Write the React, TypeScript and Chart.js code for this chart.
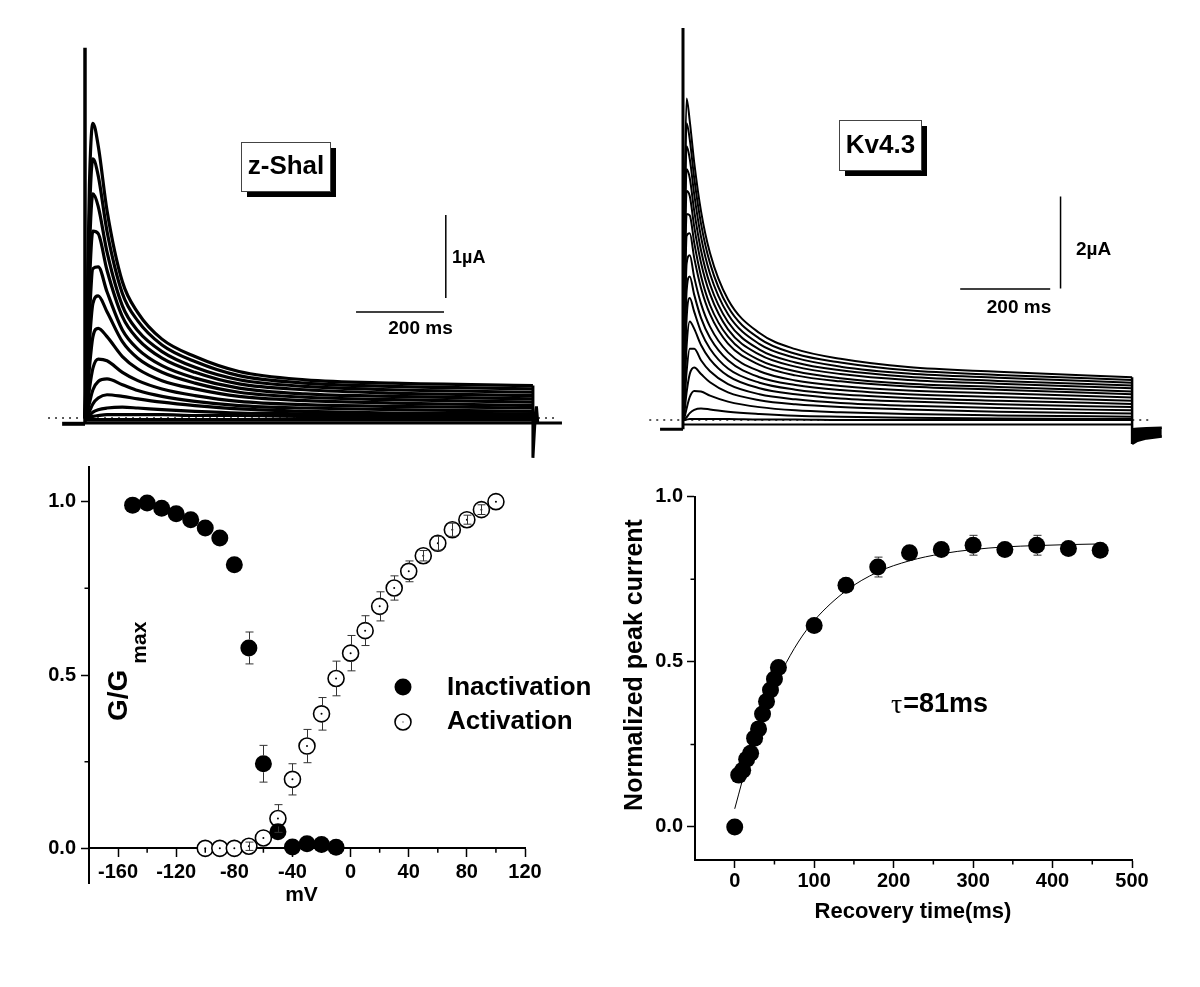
import React, { useEffect, useRef } from 'react';
import { Chart, registerables } from 'chart.js';

Chart.register(...registerables);

const SANS = "'Liberation Sans', Arial, Helvetica, sans-serif";
const SERIF = "'Liberation Serif', 'Times New Roman', serif";

// ================= Panel A: z-Shal currents (ms, µA) =================
const zTimes = [0, 4, 10, 18, 30, 50, 85, 120, 175, 250, 350, 500, 700, 1018];
const zTrace1 = [0, 1.0, 2.8, 3.55, 3.28, 2.5, 1.64, 1.27, 0.95, 0.74, 0.56, 0.46, 0.42, 0.39];
const zTrace2 = [0, 0.85, 2.4, 3.12, 2.92, 2.25, 1.5, 1.17, 0.88, 0.68, 0.51, 0.42, 0.38, 0.35];
const zTrace3 = [0, 0.7, 2.0, 2.7, 2.55, 2.0, 1.35, 1.05, 0.8, 0.61, 0.46, 0.38, 0.34, 0.31];
const zTrace4 = [0, 0.55, 1.6, 2.25, 2.22, 1.78, 1.22, 0.95, 0.72, 0.55, 0.41, 0.34, 0.3, 0.27];
const zTrace5 = [0, 0.4, 1.2, 1.8, 1.82, 1.52, 1.06, 0.83, 0.63, 0.48, 0.36, 0.29, 0.26, 0.23];
const zTrace6 = [0, 0.3, 0.9, 1.38, 1.47, 1.28, 0.92, 0.72, 0.55, 0.42, 0.31, 0.25, 0.22, 0.19];
const zTrace7 = [0, 0.2, 0.6, 0.98, 1.08, 0.98, 0.74, 0.59, 0.45, 0.35, 0.26, 0.21, 0.18, 0.15];
const zTrace8 = [0, 0.1, 0.35, 0.6, 0.71, 0.69, 0.55, 0.45, 0.35, 0.27, 0.2, 0.16, 0.14, 0.12];
const zTrace9 = [0, 0.05, 0.18, 0.34, 0.44, 0.47, 0.4, 0.33, 0.26, 0.2, 0.15, 0.12, 0.1, 0.08];
const zTrace10 = [0, 0.02, 0.08, 0.17, 0.24, 0.28, 0.26, 0.23, 0.19, 0.15, 0.11, 0.08, 0.06, 0.05];
const zTrace11 = [0, 0.01, 0.03, 0.07, 0.1, 0.12, 0.13, 0.12, 0.1, 0.08, 0.06, 0.05, 0.04, 0.03];
const zTrace12 = [0, 0, 0.01, 0.02, 0.03, 0.04, 0.04, 0.04, 0.04, 0.03, 0.03, 0.02, 0.02, 0.01];
const zTrace13 = [-0.02, -0.02, -0.02, -0.02, -0.02, -0.02, -0.02, -0.02, -0.02, -0.02, -0.02, -0.02, -0.02, -0.02];
const zTrace14 = [-0.06, -0.06, -0.06, -0.06, -0.06, -0.06, -0.06, -0.06, -0.06, -0.06, -0.06, -0.06, -0.06, -0.06];
const zTraces = [zTrace1, zTrace2, zTrace3, zTrace4, zTrace5, zTrace6, zTrace7, zTrace8, zTrace9, zTrace10, zTrace11, zTrace12, zTrace13, zTrace14];
const zHoldT = [-52, 0];
const zHoldI = [-0.07, -0.07];
const zSpikeI = [-0.07, 4.46];
const zTailT = [1018, 1018, 1022, 1026, 1029, 1084];
const zTailI = [0.39, -0.48, -0.1, 0.14, -0.06, -0.06];
const zZeroT = [-84, 1068];
const zBarT = [616, 816];
const zBarI = 1.277;
const zVBarT = 820;
const zVBarI = [1.446, 2.446];

// ================= Panel B: Kv4.3 currents (ms, µA) =================
const kTimes = [0, 3, 8, 15, 25, 40, 60, 100, 170, 250, 350, 500, 700, 998];
const kTrace1 = [0, 4.2, 6.99, 6.5, 5.59, 4.54, 3.63, 2.62, 1.89, 1.54, 1.33, 1.15, 1.05, 0.93];
const kTrace2 = [0, 3.8, 6.45, 6.1, 5.25, 4.27, 3.41, 2.46, 1.77, 1.44, 1.25, 1.08, 0.98, 0.87];
const kTrace3 = [0, 3.4, 5.95, 5.68, 4.9, 3.98, 3.18, 2.3, 1.65, 1.35, 1.16, 1.01, 0.92, 0.81];
const kTrace4 = [0, 3.0, 5.45, 5.26, 4.54, 3.69, 2.95, 2.13, 1.53, 1.25, 1.08, 0.94, 0.85, 0.75];
const kTrace5 = [0, 2.6, 4.98, 4.87, 4.2, 3.42, 2.74, 1.97, 1.42, 1.16, 1.0, 0.87, 0.79, 0.69];
const kTrace6 = [0, 2.2, 4.48, 4.45, 3.85, 3.13, 2.5, 1.81, 1.3, 1.06, 0.91, 0.79, 0.72, 0.62];
const kTrace7 = [0, 1.8, 4.0, 4.06, 3.52, 2.87, 2.3, 1.66, 1.2, 0.97, 0.84, 0.73, 0.66, 0.56];
const kTrace8 = [0, 1.4, 3.4, 3.58, 3.1, 2.53, 2.03, 1.47, 1.06, 0.86, 0.74, 0.64, 0.58, 0.49];
const kTrace9 = [0, 1.05, 2.8, 3.12, 2.72, 2.22, 1.79, 1.3, 0.93, 0.76, 0.65, 0.56, 0.5, 0.42];
const kTrace10 = [0, 0.75, 2.2, 2.65, 2.35, 1.92, 1.55, 1.12, 0.81, 0.66, 0.56, 0.48, 0.42, 0.35];
const kTrace11 = [0, 0.5, 1.6, 2.14, 1.98, 1.63, 1.32, 0.96, 0.69, 0.56, 0.47, 0.4, 0.34, 0.28];
const kTrace12 = [0, 0.3, 1.05, 1.55, 1.55, 1.3, 1.06, 0.78, 0.56, 0.45, 0.37, 0.31, 0.26, 0.21];
const kTrace13 = [0, 0.15, 0.6, 1.0, 1.14, 1.0, 0.82, 0.6, 0.43, 0.34, 0.28, 0.23, 0.18, 0.14];
const kTrace14 = [0, 0.05, 0.25, 0.5, 0.63, 0.62, 0.53, 0.4, 0.28, 0.21, 0.17, 0.13, 0.1, 0.07];
const kTrace15 = [0, 0.01, 0.06, 0.15, 0.22, 0.25, 0.23, 0.18, 0.13, 0.09, 0.07, 0.05, 0.03, 0.02];
const kTrace16 = [0, 0, 0.01, 0.02, 0.02, 0.02, 0.02, 0.02, 0.01, 0.01, 0.0, 0.0, 0.0, 0.0];
const kTrace17 = [-0.1, -0.1, -0.1, -0.1, -0.1, -0.1, -0.1, -0.1, -0.1, -0.1, -0.1, -0.1, -0.1, -0.1];
const kTraces = [kTrace1, kTrace2, kTrace3, kTrace4, kTrace5, kTrace6, kTrace7, kTrace8, kTrace9, kTrace10, kTrace11, kTrace12, kTrace13, kTrace14, kTrace15, kTrace16, kTrace17];
const kHoldT = [-51, 0];
const kHoldI = [-0.2, -0.2];
const kSpikeI = [-0.2, 8.52];
const kOffI = [0.93, -0.52];
const kTailT = [998, 1010, 1030, 1064];
const kTailUpper = [-0.2, -0.19, -0.18, -0.17];
const kTailLower = [-0.52, -0.45, -0.4, -0.36];
const kZeroT = [-75, 1042];
const kBarT = [616, 816];
const kBarI = 2.85;
const kVBarT = 839;
const kVBarI = [2.86, 4.86];

// ================= Panel C: G/Gmax vs mV =================
const inactV = [-150, -140, -130, -120, -110, -100, -90, -80, -70, -60, -50, -40, -30, -20, -10];
const inactG = [0.99, 0.996, 0.981, 0.965, 0.948, 0.924, 0.895, 0.818, 0.578, 0.244, 0.048, 0.004, 0.013, 0.011, 0.003];
const inactErr = [0, 0, 0, 0, 0, 0, 0, 0.01, 0.046, 0.053, 0, 0, 0, 0, 0];
const actV = [-100, -90, -80, -70, -60, -50, -40, -30, -20, -10, 0, 10, 20, 30, 40, 50, 60, 70, 80, 90, 100];
const actG = [0, 0, 0, 0.006, 0.03, 0.086, 0.199, 0.295, 0.388, 0.49, 0.563, 0.628, 0.698, 0.751, 0.799, 0.844, 0.88, 0.919, 0.948, 0.977, 1.0];
const actErr = [0, 0, 0, 0.012, 0, 0.04, 0.045, 0.048, 0.047, 0.05, 0.051, 0.043, 0.042, 0.035, 0.03, 0.015, 0.02, 0.019, 0.013, 0.014, 0];
const mvTicks = [-160, -120, -80, -40, 0, 40, 80, 120];
const mvMinor = [-140, -100, -60, -20, 20, 60, 100];
const gTicks = [0, 0.5, 1.0];
const gMinor = [0.25, 0.75];

// ================= Panel D: recovery from inactivation =================
const recT = [0, 5, 10, 15, 20, 25, 30, 35, 40, 45, 50, 55, 100, 140, 180, 220, 260, 300, 340, 380, 420, 460];
const recI = [0, 0.157, 0.172, 0.205, 0.223, 0.269, 0.297, 0.342, 0.38, 0.415, 0.448, 0.483, 0.61, 0.732, 0.787, 0.83, 0.84, 0.853, 0.84, 0.853, 0.843, 0.838];
const recErr = [0, 0.01, 0.01, 0.01, 0.01, 0.01, 0.01, 0.01, 0.01, 0.01, 0.01, 0.01, 0.01, 0.012, 0.03, 0.02, 0.02, 0.03, 0.012, 0.03, 0.02, 0.015];
const fitT = [0, 20, 40, 60, 80, 100, 140, 180, 220, 260, 300, 340, 380, 420, 460];
const fitI = [0.055, 0.23, 0.37, 0.475, 0.56, 0.625, 0.715, 0.772, 0.806, 0.827, 0.84, 0.848, 0.852, 0.855, 0.857];
const recTicks = [0, 100, 200, 300, 400, 500];
const recMinor = [50, 150, 250, 350, 450];
const normTicks = [0, 0.5, 1.0];
const normMinor = [0.25, 0.75];

// ---------------- helpers ----------------
const xy = (xs: number[], ys: number[]) => xs.map((x, i) => ({ x, y: ys[i] }));

const line = (data: any[], width: number, extra: any = {}) => ({
  data,
  showLine: true,
  pointRadius: 0,
  borderColor: '#000',
  backgroundColor: '#000',
  borderWidth: width,
  fill: false,
  ...extra,
});

function text(ctx: CanvasRenderingContext2D, s: string, x: number, y: number, size: number, o: any = {}) {
  ctx.save();
  ctx.font = `${o.weight ?? 'bold'} ${size}px ${o.family ?? SANS}`;
  ctx.fillStyle = '#000';
  ctx.textAlign = o.align ?? 'center';
  ctx.textBaseline = o.baseline ?? 'middle';
  ctx.translate(x, y);
  if (o.rotate) ctx.rotate(o.rotate);
  ctx.fillText(s, 0, 0);
  ctx.restore();
}

function shadowBox(ctx: CanvasRenderingContext2D, x: number, y: number, w: number, h: number, off: number) {
  ctx.fillStyle = '#000';
  ctx.fillRect(x + off, y + off, w, h);
  ctx.fillStyle = '#fff';
  ctx.fillRect(x, y, w, h);
  ctx.strokeStyle = '#444';
  ctx.lineWidth = 1;
  ctx.strokeRect(x + 0.5, y + 0.5, w, h);
}

const annotations = (draw: (ctx: CanvasRenderingContext2D, chart: any) => void) => ({
  id: 'annotations',
  afterDraw(chart: any) {
    const ctx = chart.ctx;
    ctx.save();
    draw(ctx, chart);
    ctx.restore();
  },
});

// Error bars: vertical whiskers with caps; never drawn over the inside of a filled marker.
const errorBars = {
  id: 'errorBars',
  afterDatasetsDraw(chart: any) {
    const ctx = chart.ctx;
    const ys = chart.scales.y;
    chart.data.datasets.forEach((ds: any, i: number) => {
      if (!ds.errors) return;
      const meta = chart.getDatasetMeta(i);
      ctx.save();
      ctx.strokeStyle = '#333';
      ctx.lineWidth = 1;
      meta.data.forEach((pt: any, j: number) => {
        const e = ds.errors[j];
        if (!e) return;
        const v = ds.data[j].y;
        const yT = ys.getPixelForValue(v + e);
        const yB = ys.getPixelForValue(v - e);
        const r = ds.pointRadius;
        const x = Math.round(pt.x) + 0.5;
        const y = pt.y;
        const outside = y - yT > r;
        if (!outside && ds.errorFilled) return;
        ctx.beginPath();
        if (outside) {
          ctx.moveTo(x, y - r); ctx.lineTo(x, yT);
          ctx.moveTo(x, y + r); ctx.lineTo(x, yB);
        } else {
          ctx.moveTo(x, yT); ctx.lineTo(x, yB);
        }
        ctx.moveTo(x - 4, yT); ctx.lineTo(x + 4, yT);
        ctx.moveTo(x - 4, yB); ctx.lineTo(x + 4, yB);
        ctx.stroke();
      });
      ctx.restore();
    });
  },
};

const minorTicks = (xMinor: number[], yMinor: number[], xAxisAt: number) => ({
  id: 'minorTicks',
  afterDraw(chart: any) {
    const ctx = chart.ctx;
    const xs = chart.scales.x;
    const ys = chart.scales.y;
    const y0 = ys.getPixelForValue(xAxisAt);
    const x0 = chart.chartArea.left;
    ctx.save();
    ctx.strokeStyle = '#000';
    ctx.lineWidth = 1.5;
    ctx.beginPath();
    xMinor.forEach((v) => {
      const px = xs.getPixelForValue(v);
      ctx.moveTo(px, y0);
      ctx.lineTo(px, y0 + 4.5);
    });
    yMinor.forEach((v) => {
      const py = ys.getPixelForValue(v);
      ctx.moveTo(x0, py);
      ctx.lineTo(x0 - 4.5, py);
    });
    ctx.stroke();
    ctx.restore();
  },
});

function axis(major: number[], fmt: (v: number) => string, pad: number, extra: any) {
  return {
    type: 'linear',
    afterBuildTicks: (s: any) => {
      s.ticks = major.map((v) => ({ value: v }));
    },
    ticks: {
      color: '#000',
      font: { family: SANS, size: 20, weight: 'bold' },
      padding: pad,
      autoSkip: false,
      maxRotation: 0,
      callback: (v: any) => fmt(Number(v)),
    },
    grid: { display: true, drawOnChartArea: false, drawTicks: true, tickLength: 8, tickWidth: 1.5, tickColor: '#000' },
    border: { display: true, color: '#000', width: 2 },
    ...extra,
  };
}

const baseOptions = {
  responsive: false,
  animation: false,
  events: [],
  plugins: { legend: { display: false }, tooltip: { enabled: false } },
};

// ---------------- configs ----------------
function zShalConfig() {
  const datasets: any[] = [];
  zTraces.forEach((tr) => datasets.push(line(xy(zTimes, tr), 3.2, { cubicInterpolationMode: 'monotone', order: 1 })));
  datasets.push(line(xy(zHoldT, zHoldI), 4, { order: 0 }));
  datasets.push(line(xy([0, 0], zSpikeI), 3.5, { order: 0 }));
  datasets.push(line(xy(zTailT, zTailI), 3, { order: 0 }));
  datasets.push(line(xy(zBarT, [zBarI, zBarI]), 1.5, { order: 0 }));
  datasets.push(line(xy([zVBarT, zVBarT], zVBarI), 1.5, { order: 0 }));
  datasets.push(line(xy(zZeroT, [0, 0]), 1.5, { borderDash: [2, 5], borderColor: '#222', order: 5 }));
  return {
    type: 'scatter',
    data: { datasets },
    options: {
      ...baseOptions,
      layout: { padding: { left: 41, right: 1200 - 569, top: 36.1, bottom: 987 - 476.1 } },
      scales: {
        x: { type: 'linear', display: false, min: -100, max: 1100 },
        y: { type: 'linear', display: false, min: -0.7, max: 4.6 },
      },
    },
    plugins: [
      annotations((ctx) => {
        shadowBox(ctx, 241, 142, 89, 49, 6);
        text(ctx, 'z-Shal', 286, 167, 26);
        text(ctx, '1µA', 452, 258, 18, { align: 'left' });
        text(ctx, '200 ms', 420.5, 329, 19);
      }),
    ],
  };
}

function kvConfig() {
  const datasets: any[] = [];
  kTraces.forEach((tr) => datasets.push(line(xy(kTimes, tr), 2, { cubicInterpolationMode: 'monotone', order: 1 })));
  datasets.push(line(xy(kHoldT, kHoldI), 3, { order: 0 }));
  datasets.push(line(xy([0, 0], kSpikeI), 3, { order: 0 }));
  datasets.push(line(xy([998, 998], kOffI), 2.5, { order: 0 }));
  datasets.push(line(xy(kTailT, kTailUpper), 2.5, { order: 0 }));
  datasets.push(line(xy(kTailT, kTailLower), 2.5, { order: 0, fill: '-1' }));
  datasets.push(line(xy(kBarT, [kBarI, kBarI]), 1.5, { order: 0 }));
  datasets.push(line(xy([kVBarT, kVBarT], kVBarI), 1.5, { order: 0 }));
  datasets.push(line(xy(kZeroT, [0, 0]), 1.5, { borderDash: [2, 5], borderColor: '#222', order: 5 }));
  return {
    type: 'scatter',
    data: { datasets },
    options: {
      ...baseOptions,
      layout: { padding: { left: 638, right: 1200 - 1178, top: 19.8, bottom: 987 - 461.4 } },
      scales: {
        x: { type: 'linear', display: false, min: -100, max: 1100 },
        y: { type: 'linear', display: false, min: -0.9, max: 8.7 },
      },
    },
    plugins: [
      annotations((ctx) => {
        shadowBox(ctx, 839, 120, 82, 50, 6);
        text(ctx, 'Kv4.3', 880.5, 145.5, 26);
        text(ctx, '2µA', 1076, 250, 19, { align: 'left' });
        text(ctx, '200 ms', 1019, 308, 19);
      }),
    ],
  };
}

function ssConfig() {
  return {
    type: 'scatter',
    data: {
      datasets: [
        { label: 'Inactivation', data: xy(inactV, inactG), errors: inactErr, errorFilled: true, pointRadius: 8.5, pointBackgroundColor: '#000', pointBorderColor: '#000', pointBorderWidth: 0, order: 0 },
        { label: 'Activation centre', data: xy(actV, actG), pointRadius: 1, pointBackgroundColor: '#000', pointBorderWidth: 0, order: 1 },
        { label: 'Activation', data: xy(actV, actG), errors: actErr, pointRadius: 8, pointBackgroundColor: '#fff', pointBorderColor: '#000', pointBorderWidth: 1.6, order: 2 },
      ],
    },
    options: {
      ...baseOptions,
      layout: { padding: { left: 49, right: 1200 - 525, top: 467, bottom: 987 - 883 } },
      scales: {
        x: axis(mvTicks, (v) => String(v), 4, { position: { y: 0 }, min: -180, max: 120 }),
        y: axis(gTicks, (v) => v.toFixed(1), 5, {
          position: 'left', min: -0.1, max: 1.1,
          afterFit: (s: any) => { s.width = 40; },
        }),
      },
    },
    plugins: [
      errorBars,
      minorTicks(mvMinor, gMinor, 0),
      annotations((ctx) => {
        // legend
        ctx.fillStyle = '#000';
        ctx.beginPath(); ctx.arc(403, 687, 8.5, 0, Math.PI * 2); ctx.fill();
        ctx.beginPath(); ctx.arc(403, 722, 8, 0, Math.PI * 2);
        ctx.fillStyle = '#fff'; ctx.fill();
        ctx.lineWidth = 1.6; ctx.strokeStyle = '#000'; ctx.stroke();
        ctx.fillStyle = '#000'; ctx.fillRect(402.5, 721.5, 1, 1);
        text(ctx, 'Inactivation', 447, 688, 26, { align: 'left' });
        text(ctx, 'Activation', 447, 722, 26, { align: 'left' });
        // axis titles
        text(ctx, 'mV', 301.5, 895, 21);
        ctx.save();
        ctx.translate(127, 721);
        ctx.rotate(-Math.PI / 2);
        ctx.fillStyle = '#000';
        ctx.textAlign = 'left';
        ctx.textBaseline = 'alphabetic';
        ctx.font = `bold 28px ${SANS}`;
        ctx.fillText('G/G', 0, 0);
        const w = ctx.measureText('G/G').width;
        ctx.font = `bold 21px ${SANS}`;
        ctx.fillText('max', w + 6, 19);
        ctx.restore();
      }),
    ],
  };
}

function recConfig() {
  return {
    type: 'scatter',
    data: {
      datasets: [
        { label: 'Recovery', data: xy(recT, recI), errors: recErr, errorFilled: true, pointRadius: 8.5, pointBackgroundColor: '#000', pointBorderColor: '#000', pointBorderWidth: 0, order: 0 },
        line(xy(fitT, fitI), 1, { label: 'Fit', cubicInterpolationMode: 'monotone', order: 1 }),
      ],
    },
    options: {
      ...baseOptions,
      layout: { padding: { left: 655, right: 1200 - 1132, top: 496.7, bottom: 987 - 860 - 40 } },
      scales: {
        x: axis(recTicks, (v) => String(v), 1, {
          position: 'bottom', min: -50, max: 500,
          afterFit: (s: any) => { s.height = 40; },
        }),
        y: axis(normTicks, (v) => v.toFixed(1), 4, {
          position: 'left', min: -0.1, max: 1.0,
          afterFit: (s: any) => { s.width = 40; },
        }),
      },
    },
    plugins: [
      errorBars,
      minorTicks(recMinor, normMinor, -0.1),
      annotations((ctx) => {
        text(ctx, 'Normalized peak current', 642, 665, 25, { baseline: 'alphabetic', rotate: -Math.PI / 2 });
        text(ctx, 'Recovery time(ms)', 913, 912, 22);
        ctx.font = `28px ${SERIF}`;
        const tw = ctx.measureText('τ').width;
        text(ctx, 'τ', 891, 706, 28, { align: 'left', weight: 'normal', family: SERIF });
        text(ctx, '=81ms', 891 + tw + 1, 705, 27, { align: 'left' });
      }),
    ],
  };
}

function ChartCanvas({ make }: { make: () => any }) {
  const ref = useRef<HTMLCanvasElement | null>(null);
  useEffect(() => {
    const chart = new Chart(ref.current as HTMLCanvasElement, make());
    return () => chart.destroy();
  }, []);
  return (
    <canvas
      ref={ref}
      width={1200}
      height={987}
      style={{ position: 'absolute', left: 0, top: 0, width: 1200, height: 987 }}
    />
  );
}

export default function App() {
  return (
    <div style={{ position: 'fixed', left: 0, top: 0, width: 1200, height: 987, background: '#fff', overflow: 'hidden' }}>
      <ChartCanvas make={zShalConfig} />
      <ChartCanvas make={kvConfig} />
      <ChartCanvas make={ssConfig} />
      <ChartCanvas make={recConfig} />
    </div>
  );
}
